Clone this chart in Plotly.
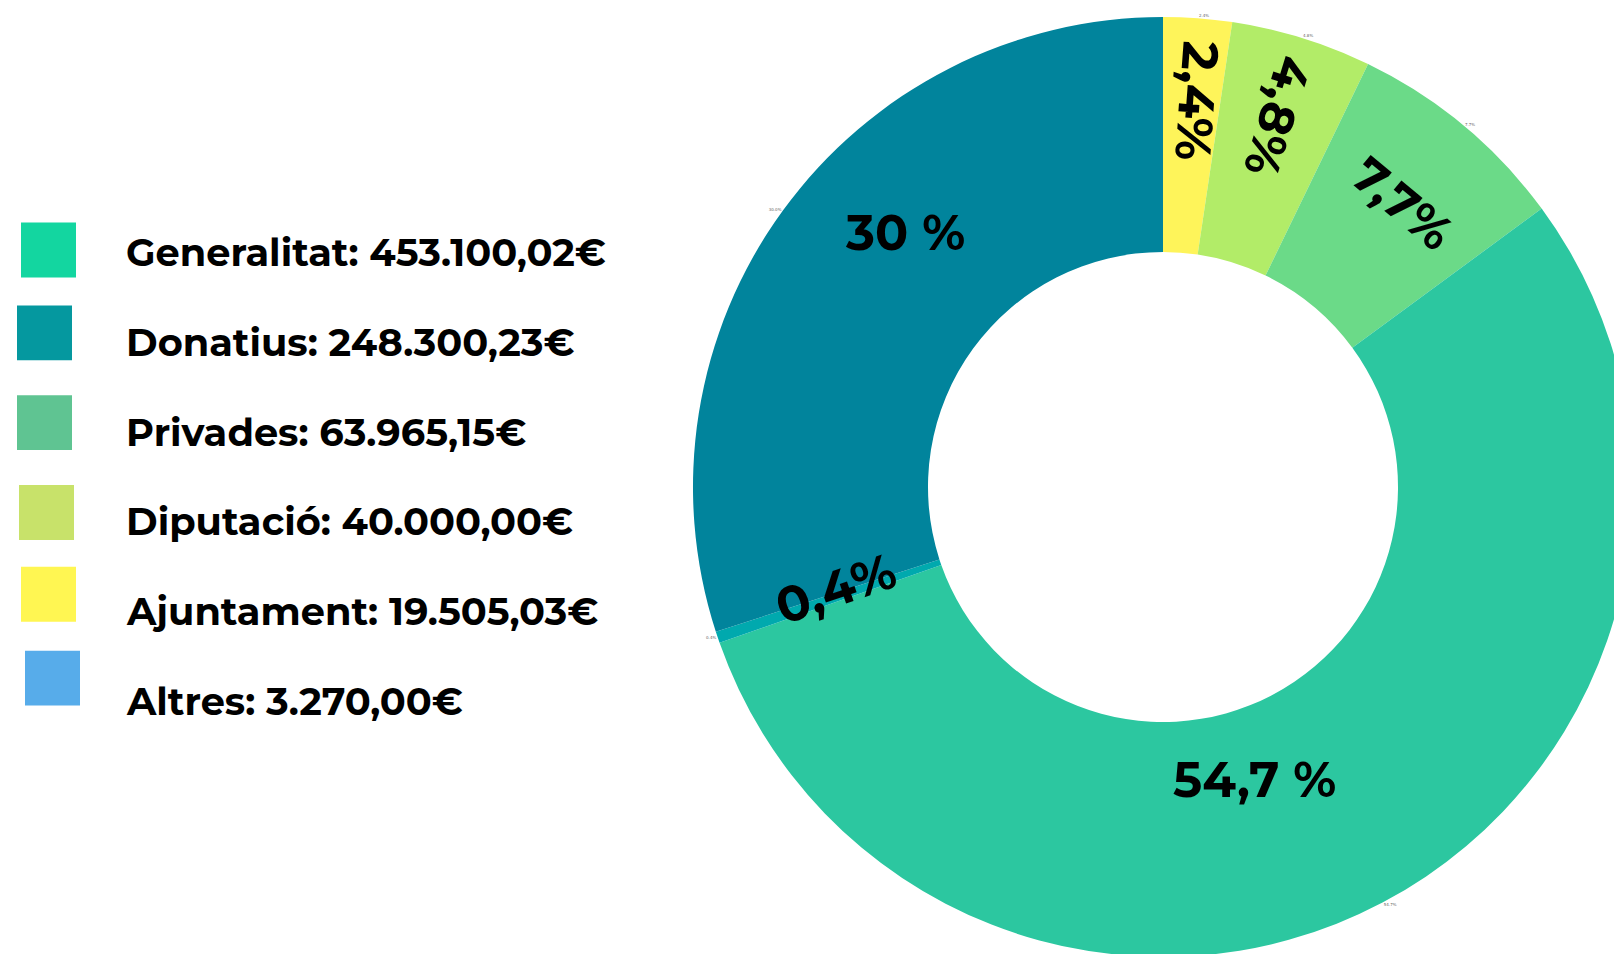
import math
import plotly.graph_objects as go

# ---------------- data ----------------
categories = ["Ajuntament", "Diputació", "Privades", "Generalitat", "Altres", "Donatius"]
amounts = [19505.03, 40000.00, 63965.15, 453100.02, 3270.00, 248300.23]
slice_labels = ["2,4%", "4,8%", "7,7%", "54,7 %", "0,4%", "30 %"]
slice_colors = ["#fef45a", "#b2ec68", "#6bda88", "#2cc7a0", "#00a9ae", "#01849c"]

legend_names = ["Generalitat", "Donatius", "Privades", "Diputació", "Ajuntament", "Altres"]
legend_values = ["453.100,02€", "248.300,23€", "63.965,15€", "40.000,00€", "19.505,03€", "3.270,00€"]
legend_colors = ["#13d6a0", "#05989f", "#5fc492", "#c8e26a", "#fff652", "#57acea"]

# ---------------- style / layout ----------------
W, H = 1640, 954          # figure size (page body margin shifts it by OFF px)
OFF = 8
PIE_CX, PIE_CY, PIE_R = 1163, 487, 471   # screen pixels
FONT = "Montserrat, 'DejaVu Sans', sans-serif"


def px_x(sx):
    return (sx - OFF) / W


def px_y(sy):
    return 1 - (sy - OFF) / H


# per-label styling: (orientation, radius fraction, angle offset deg, font size)
label_style = [
    ("radial", 0.824, 0.8, 50),
    ("radial", 0.825, 0.0, 49),
    ("tangential", 0.79, 0.4, 49),
    ("horizontal", 0.652, 10.5, 49),
    ("radial", 0.727, 1.4, 50),
    ("horizontal", 0.77, 8.7, 49),
]

# legend layout (screen pixels): square boxes and text rows
legend_boxes = [(21, 222), (17, 305), (17, 395), (19, 485), (21, 567), (25, 651)]
legend_box_size = 55
legend_text_x = 124
legend_text_y = [252, 342, 432, 522, 612, 702]
legend_font_size = 38.3

dom_x = [px_x(PIE_CX - PIE_R), px_x(PIE_CX + PIE_R)]
dom_y = [px_y(PIE_CY + PIE_R), px_y(PIE_CY - PIE_R)]

fig = go.Figure()
fig.add_trace(go.Pie(
    labels=categories,
    values=amounts,
    sort=False,
    direction="clockwise",
    rotation=0,
    hole=0.5,
    marker=dict(colors=slice_colors, line=dict(width=0)),
    textposition="outside",
    texttemplate="%{percent:.1%}",
    textfont=dict(size=4, color="#666666", family="DejaVu Sans"),
    hoverinfo="skip",
    showlegend=False,
    domain=dict(x=[max(0, dom_x[0]), min(1, dom_x[1])], y=[max(0, dom_y[0]), min(1, dom_y[1])]),
))

# slice labels positioned from the data (mid angle of each slice)
total = sum(amounts)
cum = 0.0
annotations = []
for v, txt, (orient, rf, off, fs) in zip(amounts, slice_labels, label_style):
    mid = 360.0 * (cum + v / 2) / total
    cum += v
    th = math.radians(mid + off)
    sx = PIE_CX + rf * PIE_R * math.sin(th)
    sy = PIE_CY - rf * PIE_R * math.cos(th)
    if orient == "radial":
        ang = 90 + mid
    elif orient == "tangential":
        ang = mid
    else:
        ang = 0
    ang = ((ang + 180) % 360) - 180
    annotations.append(dict(
        x=px_x(sx), y=px_y(sy), xref="paper", yref="paper",
        text="<b>" + txt + "</b>", showarrow=False, textangle=ang,
        xanchor="center", yanchor="middle",
        font=dict(family=FONT, size=fs, color="#000000"),
    ))

shapes = []
for (bx, by), col, name, val, ty in zip(legend_boxes, legend_colors, legend_names, legend_values, legend_text_y):
    shapes.append(dict(
        type="rect", xref="paper", yref="paper",
        x0=px_x(bx), x1=px_x(bx + legend_box_size),
        y0=px_y(by + legend_box_size), y1=px_y(by),
        fillcolor=col, line=dict(width=0),
    ))
    annotations.append(dict(
        x=px_x(legend_text_x), y=px_y(ty), xref="paper", yref="paper",
        text="<b>" + name + ": " + val + "</b>", showarrow=False,
        xanchor="left", yanchor="middle",
        font=dict(family=FONT, size=legend_font_size, color="#000000"),
    ))

fig.update_layout(
    width=W, height=H,
    margin=dict(l=0, r=0, t=0, b=0),
    paper_bgcolor="#ffffff", plot_bgcolor="#ffffff",
    annotations=annotations, shapes=shapes,
    showlegend=False,
)

fig.write_html("out.html")
